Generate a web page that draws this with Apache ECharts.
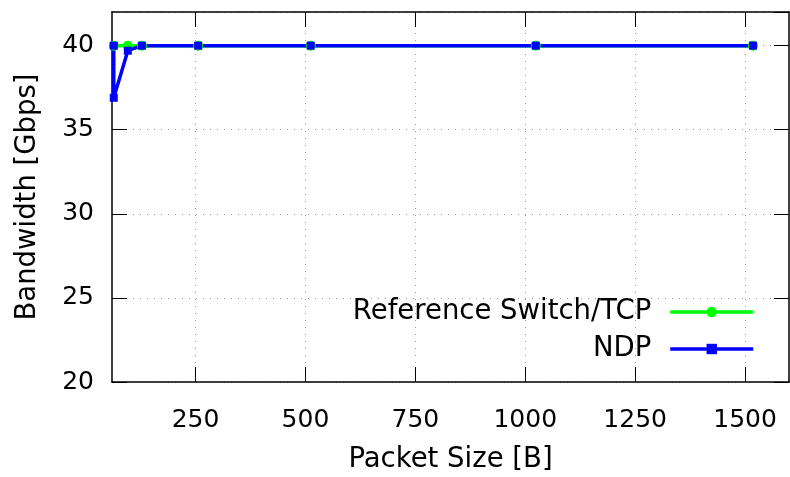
<!DOCTYPE html>
<html><head><meta charset="utf-8">
<script src="https://cdn.jsdelivr.net/npm/echarts@6/dist/echarts.min.js"></script>
<style>html,body{margin:0;padding:0;background:#fff}#c{width:790px;height:477px}</style>
</head><body><div id="c"></div>
<script>
const refSize = [64, 96, 128, 256, 512, 1024, 1518];
const refGbps = [40, 40, 40, 40, 40, 40, 40];
const ndpSize = [64, 64, 96, 128, 256, 512, 1024, 1518];
const ndpGbps = [40, 36.9, 39.7, 40, 40, 40, 40, 40];
const xTicks = [250, 500, 750, 1000, 1250, 1500];
const seriesNames = ['Reference Switch/TCP', 'NDP'];

const FONT = 'DejaVu Sans';
const tickTxt = {fontFamily: FONT, fontSize: 25, color: '#000'};
const txt = {fontFamily: FONT, fontSize: 27.5, color: '#000'};
const grid = {color: '#9a9a9a', type: [1, 6], width: 1};
const frame = {color: '#000', width: 1.5};
const tick = {inside: true, length: 15, lineStyle: {color: '#000', width: 1}};
const plain = v => String(v);

function xAx(pos, main) {
  return {
    type: 'value', position: pos, min: 60, max: 1600,
    axisLine: {show: true, onZero: false, lineStyle: frame},
    axisTick: Object.assign({show: true, customValues: xTicks}, tick),
    axisLabel: main ? Object.assign({customValues: xTicks, margin: 26, formatter: plain}, tickTxt) : {show: false},
    splitLine: main ? {show: true, lineStyle: grid} : {show: false},
    name: main ? 'Packet Size [B]' : '',
    nameLocation: 'middle', nameGap: 64, nameTextStyle: txt
  };
}
function yAx(pos, main) {
  return {
    type: 'value', position: pos, min: 20, max: 42, interval: 5,
    axisLine: {show: true, onZero: false, lineStyle: frame},
    axisTick: Object.assign({show: true}, tick),
    axisLabel: main ? Object.assign({margin: 18, showMaxLabel: false, formatter: plain}, tickTxt) : {show: false},
    splitLine: main ? {show: true, lineStyle: grid} : {show: false},
    name: main ? 'Bandwidth [Gbps]' : '',
    nameLocation: 'middle', nameGap: 70, nameTextStyle: txt
  };
}
function leg(name, top) {
  return {
    data: [name], right: 35, top: top, padding: 0, align: 'right',
    itemWidth: 83, itemHeight: 13,
    lineStyle: {width: 3.5},
    textStyle: Object.assign({lineHeight: 30, padding: [0, 14, 0, 0]}, txt),
    selectedMode: false
  };
}
const chart = echarts.init(document.getElementById('c'), null, {renderer: 'canvas'});
chart.setOption({
  animation: false,
  backgroundColor: '#fff',
  grid: {left: 112, right: 1, top: 12, bottom: 95, containLabel: false, outerBoundsMode: 'none'},
  legend: [leg(seriesNames[0], 297), leg(seriesNames[1], 334)],
  xAxis: [xAx('bottom', true), xAx('top', false)],
  yAxis: [yAx('left', true), yAx('right', false)],
  series: [
    {name: seriesNames[0], type: 'line', xAxisIndex: 0, yAxisIndex: 0,
     data: refSize.map((x, i) => [x, refGbps[i]]),
     symbol: 'circle', symbolSize: 10, showAllSymbol: true,
     lineStyle: {color: '#00ff00', width: 3.5}, itemStyle: {color: '#00ff00'}},
    {name: seriesNames[1], type: 'line', xAxisIndex: 0, yAxisIndex: 0,
     data: ndpSize.map((x, i) => [x, ndpGbps[i]]),
     symbol: 'rect', symbolSize: 8, showAllSymbol: true,
     lineStyle: {color: '#0000ff', width: 3.5}, itemStyle: {color: '#0000ff'}}
  ]
});
</script></body></html>
